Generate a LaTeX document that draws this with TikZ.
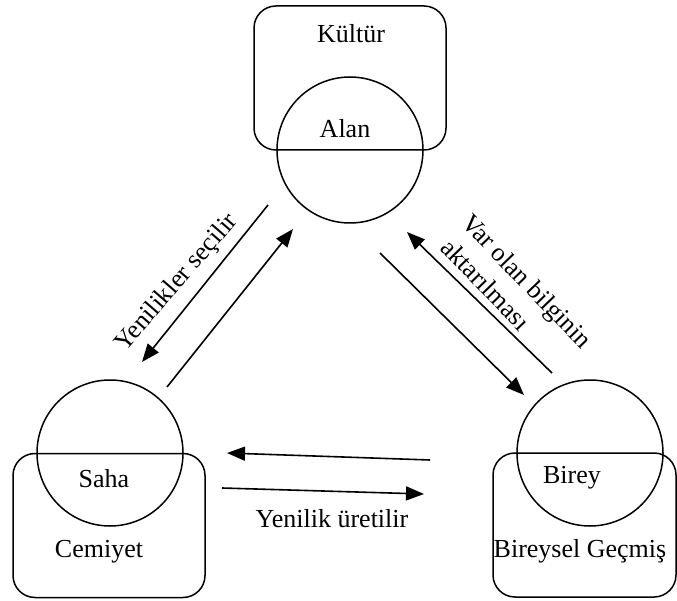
\documentclass[tikz,border=0pt]{standalone}
\usepackage{fontspec}
\setmainfont{Liberation Serif}
\usetikzlibrary{arrows.meta}
\begin{document}
\begin{tikzpicture}[x=1pt,y=-1pt,
  every node/.style={font=\fontsize{26}{39}\selectfont},
  box/.style={draw,line width=1.5pt,rounded corners=22pt,minimum width=#1,minimum height=144pt,inner sep=0pt},
  ring/.style={draw,circle,line width=1.5pt,minimum size=146pt,inner sep=0pt},
  lbl/.style={anchor=base,inner sep=0pt},
  slant/.style={anchor=base west,inner sep=0pt,rotate=-46},
  flow/.style={line width=1.6pt,-{Triangle[length=18pt,width=14pt]}}]
\useasboundingbox (0,0) rectangle (677,601);
% boxes
\node[box=192pt] (kultur) at (350,78) {};
\node[box=192pt] (cemiyet) at (109,525.5) {};
\node[box=183pt] (gecmis) at (584.5,525) {};
% circles
\node[ring] (alan) at (350,150) {};
\node[ring] (saha) at (110,453) {};
\node[ring] (birey) at (590,453) {};
% labels
\node[lbl] at (351,43) {Kültür};
\node[lbl] at (345,138) {Alan};
\node[lbl] at (104,487) {Saha};
\node[lbl] at (99,557) {Cemiyet};
\node[lbl] at (572,483) {Birey};
\node[lbl] at (580,557) {Bireysel Geçmiş};
% arrow ends
\coordinate (a1s) at (268,205); \coordinate (a1e) at (142,362);
\coordinate (a2s) at (167,387); \coordinate (a2e) at (293,229);
\coordinate (a3s) at (552,373); \coordinate (a3e) at (407,232);
\coordinate (a4s) at (380,253); \coordinate (a4e) at (524,395);
\coordinate (a5s) at (430,460); \coordinate (a5e) at (227,453);
\coordinate (a6s) at (222,488); \coordinate (a6e) at (424,494);
\draw[flow] (a1s) -- (a1e);
\draw[flow] (a2s) -- (a2e);
\draw[flow] (a3s) -- (a3e);
\draw[flow] (a4s) -- (a4e);
\draw[flow] (a5s) -- (a5e);
\draw[flow] (a6s) -- (a6e);
% arrow labels
\node[rotate=49,inner sep=0pt] (l1) at (177,283) {Yenilikler seçilir};
\node[slant] (l2a) at (460,224) {Var olan bilginin};
\node[slant] (l2b) at (439,249) {aktarılması};
\node[lbl] (l3) at (332,527) {Yenilik üretilir};
\end{tikzpicture}
\end{document}
